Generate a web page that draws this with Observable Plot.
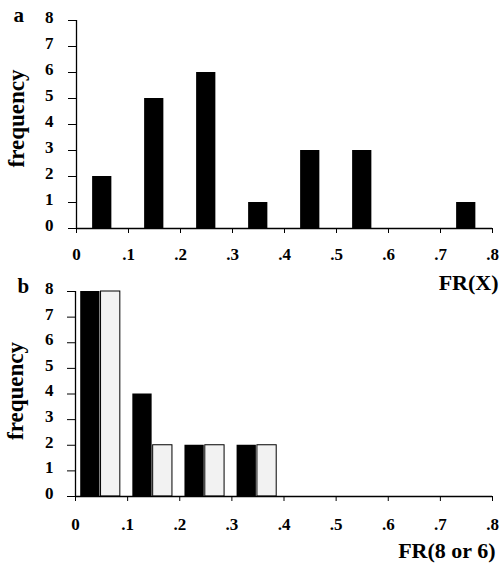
<!DOCTYPE html>
<html>
<head>
<meta charset="utf-8">
<script src="https://cdn.jsdelivr.net/npm/d3@7"></script>
<script src="https://cdn.jsdelivr.net/npm/@observablehq/plot@0.6"></script>
<style>
  html, body { margin: 0; padding: 0; background: white; }
  #wrap { position: relative; width: 501px; height: 566px; overflow: hidden; }
  #wrap svg { position: absolute; left: 0; }
</style>
</head>
<body>
<div id="wrap"></div>
<script>
// ---- data ----
const xTicks = [0, 0.1, 0.2, 0.3, 0.4, 0.5, 0.6, 0.7, 0.8];
const xTickLabels = ["0", ".1", ".2", ".3", ".4", ".5", ".6", ".7", ".8"];
const yTicks = [0, 1, 2, 3, 4, 5, 6, 7, 8];

// panel a: FR(X)
const binsA = [0, 0.1, 0.2, 0.3, 0.4, 0.5, 0.6, 0.7];
const freqA = [2, 5, 6, 1, 3, 3, 0, 1];

// panel b: FR(8 or 6)
const binsB = [0, 0.1, 0.2, 0.3, 0.4, 0.5, 0.6, 0.7];
const freqB8 = [8, 4, 2, 2, 0, 0, 0, 0];   // black bars
const freqB6 = [8, 2, 2, 2, 0, 0, 0, 0];   // stippled bars

const FONT = "Liberation Serif";

function panel(opts) {
  const {series, marginLeft, marginTop, marginBottom, height, xLabel, panelLabel, tickDyX, freqDy} = opts;
  const marks = [];
  for (const s of series) {
    marks.push(Plot.rectY(s.data, {
      x1: d => d.bin + s.o1, x2: d => d.bin + s.o2, y: "freq",
      fill: s.fill, stroke: s.stroke, strokeWidth: s.stroke ? 1 : 0
    }));
  }
  const txt = {fontFamily: FONT, fontWeight: "bold", fill: "black"};
  marks.push(
    // axis lines
    Plot.ruleX([0], {y1: 0, y2: 8, stroke: "black", strokeWidth: 1.3}),
    Plot.ruleY([0], {stroke: "black", strokeWidth: 1.3}),
    // tick marks
    Plot.ruleY(yTicks, {y: d => d, x1: 0, x2: 0, insetLeft: -8, stroke: "black", strokeWidth: 1}),
    Plot.ruleX(xTicks, {x: d => d, y1: 0, y2: 0, insetBottom: -5, stroke: "black", strokeWidth: 1}),
    // tick labels
    Plot.text(xTicks, {x: d => d, frameAnchor: "bottom", lineAnchor: "top", dy: tickDyX,
      text: (d, i) => xTickLabels[i], fontSize: 17, ...txt}),
    Plot.text(yTicks, {y: d => d, frameAnchor: "left", textAnchor: "end", lineAnchor: "middle",
      dx: opts.tickDxY, dy: -3, text: d => String(d), fontSize: 17, ...txt}),
    // labels
    Plot.text([panelLabel], {frameAnchor: "top-left", text: d => d, textAnchor: "start", lineAnchor: "middle",
      dx: opts.labelDx, dy: -5, fontSize: 21, ...txt}),
    Plot.text(["frequency"], {frameAnchor: "left", text: d => d, rotate: -90, textAnchor: "middle",
      lineAnchor: "middle", dx: -60, dy: freqDy, fontSize: 23, ...txt}),
    Plot.text([xLabel], {frameAnchor: "bottom-right", text: d => d, textAnchor: "end", lineAnchor: "middle",
      dx: opts.xLabelDx, dy: 54, fontSize: 22, ...txt})
  );
  return Plot.plot({
    width: 501, height, marginLeft, marginRight: 9, marginTop, marginBottom,
    x: {domain: [0, 0.8], axis: null},
    y: {domain: [0, 8], axis: null},
    style: {background: "transparent", overflow: "visible", fontFamily: FONT, color: "black"},
    marks
  });
}

const dataA = binsA.map((bin, i) => ({bin, freq: freqA[i]}));
const dataB8 = binsB.map((bin, i) => ({bin, freq: freqB8[i]}));
const dataB6 = binsB.map((bin, i) => ({bin, freq: freqB6[i]}));

const a = panel({
  series: [{data: dataA, o1: 0.031, o2: 0.068, fill: "black"}],
  marginLeft: 76, marginTop: 20, marginBottom: 72, height: 300,
  xLabel: "FR(X)", panelLabel: "a", tickDyX: 19, tickDxY: -23, freqDy: -6, labelDx: -63, xLabelDx: 6
});
const b = panel({
  series: [
    {data: dataB8, o1: 0.010, o2: 0.047, fill: "black"},
    {data: dataB6, o1: 0.049, o2: 0.086, fill: "#f2f2f2", stroke: "black"}
  ],
  marginLeft: 75, marginTop: 25, marginBottom: 70, height: 300,
  xLabel: "FR(8 or 6)", panelLabel: "b", tickDyX: 21, tickDxY: -22, freqDy: -3, labelDx: -58, xLabelDx: 3
});
a.style.top = "0px";
b.style.top = "266px";
const wrap = document.getElementById("wrap");
wrap.appendChild(a);
wrap.appendChild(b);
</script>
</body>
</html>
